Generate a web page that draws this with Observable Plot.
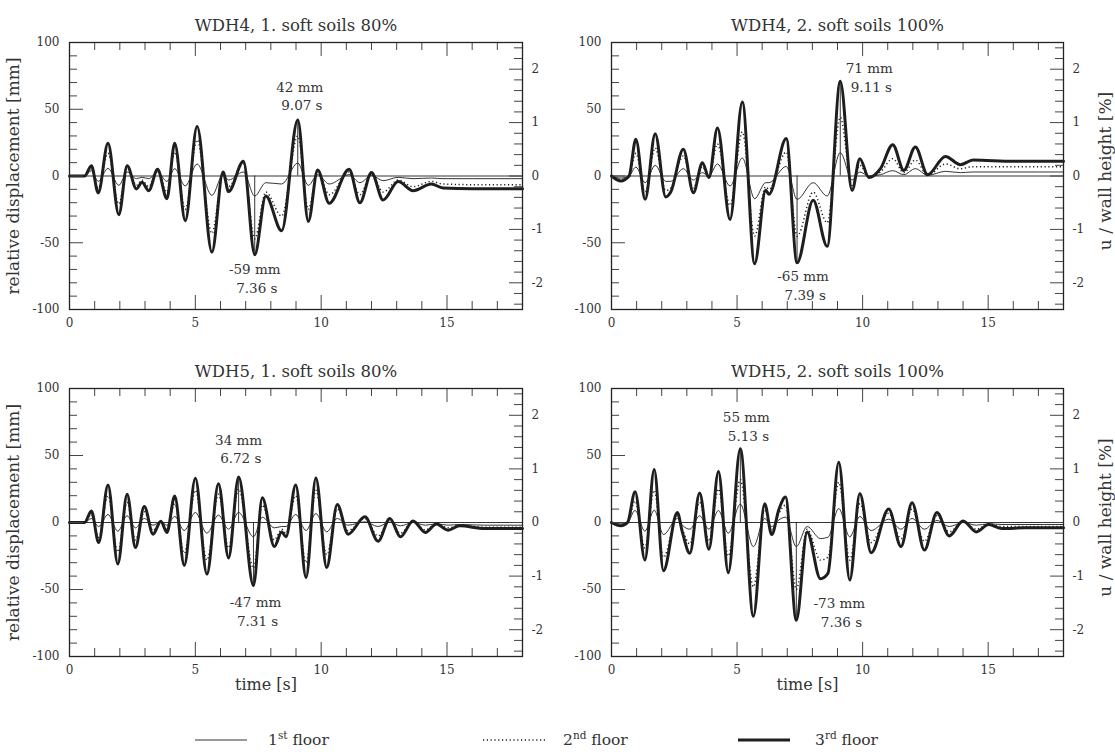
<!DOCTYPE html>
<html>
<head>
<meta charset="utf-8">
<script src="https://cdn.jsdelivr.net/npm/d3@7"></script>
<script src="https://cdn.jsdelivr.net/npm/@observablehq/plot@0.6"></script>
<style>
  body { margin: 0; background: #fff; }
  #wrap { position: relative; width: 1115px; height: 754px; font-family: "DejaVu Serif", serif; color: #333; overflow: hidden; }
  .panel { position: absolute; }
  .leg-line { position: absolute; }
  .leg-text { position: absolute; font-size: 15.5px; color: #333; white-space: nowrap; line-height: 1; }
  .leg-text sup { font-size: 0.68em; vertical-align: 0.55em; line-height: 0; }
</style>
</head>
<body>
<div id="wrap"></div>
<script>
// ---------------- DATA ----------------
// Panel titles
const panelTitles = ["WDH4, 1. soft soils 80%", "WDH4, 2. soft soils 100%", "WDH5, 1. soft soils 80%", "WDH5, 2. soft soils 100%"];

// Panel 1: WDH4, 1. soft soils 80%
const p1Time   = [0, 0.6, 0.87, 1.14, 1.53, 1.96, 2.29, 2.66, 2.88, 3.15, 3.5, 3.87, 4.18, 4.6, 5.07, 5.66, 6.1, 6.32, 6.91, 7.36, 7.8, 8.43, 9.07, 9.49, 9.86, 10.32, 11.11, 11.54, 12.0, 12.46, 13.06, 13.65, 14.38, 14.84, 16.0, 18.0];
const p1Floor1 = [0, 0, 4, -4, 5.7, -7, 3, -2, -1, -2, 3, -4, 5.5, -7.5, 9, -14.5, 1, -3, 3, -15, -5, -6, 9.7, -7, 1, -6, 1, -5, 0.5, -3.5, -1, -2, -1.5, -2, -2, -2];
const p1Floor2 = [0, 0, 6, -9, 17, -21, 6, -7, -3, -8, 4, -12, 18, -25, 27, -43, 2, -8, 9, -47, -12, -30, 30, -25, 3, -14, 3, -14, 1.5, -12, -3, -8, -4, -6, -6.5, -6.5];
const p1Floor3 = [0, 0, 7.7, -12.7, 24.5, -29, 7.7, -9.7, -4.7, -11, 5, -17, 24.5, -33.5, 37, -57, 3, -11.7, 11, -59, -15, -41, 42, -34, 4.5, -20.5, 5, -20, 2.7, -18, -4.2, -11, -6, -9, -9.5, -9.5];
const p1PeakTimes  = [9.07, 7.36];
const p1PeakValues = [42, -59];

// Panel 2: WDH4, 2. soft soils 100%
const p2Time   = [0, 0.37, 0.7, 0.97, 1.34, 1.74, 2.16, 2.36, 2.86, 3.26, 3.62, 3.88, 4.22, 4.72, 5.21, 5.7, 6.14, 6.27, 6.96, 7.39, 8.03, 8.59, 9.11, 9.58, 9.89, 10.25, 10.71, 11.2, 11.64, 12.1, 12.59, 13.3, 13.89, 14.4, 16.0, 18.0];
const p2Floor1 = [0, -1.5, 0, 6.7, -5, 8, -4, -4, 5.5, -3, 2.5, 0, 9, -7.5, 13.5, -17, -5, -5, 7.2, -17.5, -5, -15, 17.5, -3, 3, 0, 1, 4, 1, 5.5, 0.5, 3.5, 2.5, 3, 3, 3];
const p2Floor2 = [0, -2.5, 0, 17, -12, 21, -11, -9, 15, -9, 7, -1, 24, -22, 33, -45, -8, -10, 18, -45, -12, -35, 44, -7, 8, -1, 3, 13, 2.5, 12, 0.5, 9, 5.5, 7, 7, 7];
const p2Floor3 = [0, -3.7, 0, 27.5, -17.5, 31.7, -15.7, -12, 20, -12.5, 10, -1.2, 36, -32.5, 55.4, -65.7, -10.7, -13.7, 28, -65, -18.2, -52.7, 71, -10.7, 13, -1.2, 5.5, 23.5, 4.2, 21.7, 1, 14.7, 8.5, 12, 11, 11];
const p2PeakTimes  = [9.11, 7.39];
const p2PeakValues = [71, -65];

// Panel 3: WDH5, 1. soft soils 80%
const p3Time   = [0, 0.6, 0.87, 1.16, 1.53, 1.92, 2.29, 2.62, 2.97, 3.32, 3.63, 3.87, 4.18, 4.56, 5.0, 5.46, 5.92, 6.32, 6.72, 7.31, 7.66, 8.14, 8.43, 8.6, 8.99, 9.4, 9.79, 10.22, 10.64, 11.07, 11.74, 12.26, 12.73, 13.15, 13.65, 14.14, 14.58, 15.04, 15.5, 16.5, 18.0];
const p3Floor1 = [0, 0, 3, -3, 6, -6.5, 5, -4, 3, -2, 0.5, -2, 4.5, -6, 7.5, -8, 5.5, -5, 7.5, -10.7, 4, -4, -3, -3, 6, -6, 6.7, -7, 3, -2, 0.5, -3, 0.3, -2.5, 0, -2, -1, -2, -1.5, -2, -2];
const p3Floor2 = [0, 0, 6, -11, 20, -22, 15, -13, 8, -6, 0.5, -5, 14, -23, 24, -28, 21, -19, 25, -34, 13, -13, -5, -8, 20, -30, 24, -24, 10, -6, 3, -10, 2, -8, 1, -5.5, -1, -4, -2, -3.5, -3.5];
const p3Floor3 = [0, 0, 8.5, -15, 28, -31, 21, -18.7, 12, -8.7, 1, -7.5, 19.7, -32, 33, -38.5, 29, -26.4, 34, -47, 18.4, -18, -7, -10.7, 28, -41, 33.3, -33.6, 13.4, -8.7, 4.2, -14, 3, -10.7, 1.2, -7.5, -1.2, -5.7, -2.5, -4.5, -4.5];
const p3PeakTimes  = [6.72, 7.31];
const p3PeakValues = [34, -47];

// Panel 4: WDH5, 2. soft soils 100%
const p4Time   = [0, 0.37, 0.64, 0.94, 1.33, 1.7, 2.07, 2.62, 2.82, 3.12, 3.51, 3.88, 4.26, 4.65, 5.13, 5.65, 6.1, 6.38, 6.67, 6.93, 7.36, 7.79, 8.32, 8.62, 9.05, 9.49, 9.89, 10.34, 11.04, 11.53, 11.97, 12.46, 12.96, 13.45, 14.0, 14.53, 15.02, 15.55, 16.5, 18.0];
const p4Floor1 = [0, -1, 0, 9, -6.5, 9.2, -9, 3, -2, -5, 5, -5, 9, -8, 13.7, -18, 3, -3, 2, 4, -18, -3, -12, -11, 10.4, -10.7, 4.5, -6, 2.5, -5, 3, -5, 1.5, -3, 0, -2, -1, -1.5, -1.5, -1.5];
const p4Floor2 = [0, -2, 0, 16, -19, 24, -26, 5, -5, -16, 15, -14, 25, -25, 32, -48, 9, -6, 7, 13, -50, -5, -28, -26, 30, -28, 14, -15, 7, -12, 10, -14, 5, -7, 1, -5, -1, -3, -3, -3];
const p4Floor3 = [0, -2.5, 0, 23, -28, 39.5, -36, 7.5, -7, -23, 22, -20, 38, -37.5, 55, -70, 14, -9, 10, 19, -73, -7, -42, -38, 45, -43, 21.6, -22.6, 10, -18, 14.7, -20.6, 7.5, -10, 1.2, -7, -1.5, -4.5, -4, -4];
const p4PeakTimes  = [5.13, 7.36];
const p4PeakValues = [55, -73];

// Axes / ticks
const timeTicksMajor = [0, 5, 10, 15];
const timeTicksMinor = [1, 2, 3, 4, 6, 7, 8, 9, 11, 12, 13, 14, 16, 17];
const mmTicksMajor = [-100, -50, 0, 50, 100];
const mmTicksMinor = [-90, -80, -70, -60, -40, -30, -20, -10, 10, 20, 30, 40, 60, 70, 80, 90];
const pctTicksMajor = [-2, -1, 0, 1, 2];
const pctTicksMinor = [-2.4, -2.2, -1.8, -1.6, -1.4, -1.2, -0.8, -0.6, -0.4, -0.2, 0.2, 0.4, 0.6, 0.8, 1.2, 1.4, 1.6, 1.8, 2.2, 2.4];
const wallHeightMm = 4000;
const timeDomain = [0, 18];
const mmDomain = [-100, 100];

const axisLabelLeft = "relative displacement [mm]";
const axisLabelRight = "u / wall height [%]";
const axisLabelTime = "time [s]";

const floorNumbers = [1, 2, 3];
const floorSuffixes = ["st", "nd", "rd"];
const floorWord = "floor";

// ---------------- STYLES ----------------
const INK = "#1e1e1e";
const TXT = "#333";
const floorStyles = [
  { strokeWidth: 0.9, dash: null },
  { strokeWidth: 1.5, dash: "1.2 2.6" },
  { strokeWidth: 3, dash: null }
];
const FONT = "DejaVu Serif";

// ---------------- PANELS ----------------
const panels = [
  { time: p1Time, floors: [p1Floor1, p1Floor2, p1Floor3], peakT: p1PeakTimes, peakV: p1PeakValues,
    box: { left: 0, top: 0, width: 557, height: 340, mL: 69, mR: 35, mT: 42, mB: 31 },
    labelOffsets: [[2, -25], [0, 22.5]], leftLabel: true, rightLabel: false, timeLabel: false },
  { time: p2Time, floors: [p2Floor1, p2Floor2, p2Floor3], peakT: p2PeakTimes, peakV: p2PeakValues,
    box: { left: 557, top: 0, width: 558, height: 340, mL: 54, mR: 52, mT: 42, mB: 31 },
    labelOffsets: [[29, -4.5], [6, 22]], leftLabel: false, rightLabel: true, timeLabel: false },
  { time: p3Time, floors: [p3Floor1, p3Floor2, p3Floor3], peakT: p3PeakTimes, peakV: p3PeakValues,
    box: { left: 0, top: 340, width: 557, height: 360, mL: 69, mR: 35, mT: 48, mB: 44 },
    labelOffsets: [[0, -29], [2, 25]], leftLabel: true, rightLabel: false, timeLabel: true },
  { time: p4Time, floors: [p4Floor1, p4Floor2, p4Floor3], peakT: p4PeakTimes, peakV: p4PeakValues,
    box: { left: 557, top: 340, width: 558, height: 360, mL: 54, mR: 52, mT: 48, mB: 44 },
    labelOffsets: [[6, -23], [43, -9]], leftLabel: false, rightLabel: true, timeLabel: true }
];

const wrap = document.getElementById("wrap");

panels.forEach((p, pi) => {
  const b = p.box;
  const fw = b.width - b.mL - b.mR;
  const fh = b.height - b.mT - b.mB;
  const rows = p.time.map((t, i) => ({ t, f1: p.floors[0][i], f2: p.floors[1][i], f3: p.floors[2][i] }));
  const peaks = p.peakT.map((t, i) => ({ t, v: p.peakV[i] }));
  const pct = d => d * wallHeightMm / 100;

  const marks = [
    // zero line and peak markers
    Plot.ruleY([0], { stroke: INK, strokeWidth: 0.9 }),
    Plot.ruleX(peaks, { x: "t", y1: 0, y2: "v", stroke: INK, strokeWidth: 0.9 }),
    // series
    ...["f1", "f2", "f3"].map((k, i) => Plot.line(rows, {
      x: "t", y: k, curve: "monotone-x", stroke: INK,
      strokeWidth: floorStyles[i].strokeWidth,
      strokeDasharray: floorStyles[i].dash,
      strokeLinejoin: "round", strokeLinecap: i === 1 ? "butt" : "round"
    })),
    // inward ticks: left (mm)
    Plot.tickY(mmTicksMajor, { y: d => d, insetRight: fw - 14, stroke: "#444", strokeWidth: 1 }),
    Plot.tickY(mmTicksMinor, { y: d => d, insetRight: fw - 8, stroke: "#444", strokeWidth: 1 }),
    // right (% wall height)
    Plot.tickY(pctTicksMajor, { y: pct, insetLeft: fw - 13, stroke: "#444", strokeWidth: 1 }),
    Plot.tickY(pctTicksMinor, { y: pct, insetLeft: fw - 8, stroke: "#444", strokeWidth: 1 }),
    // top & bottom (time)
    Plot.tickX(timeTicksMajor, { x: d => d, insetBottom: fh - 14, stroke: "#444", strokeWidth: 1 }),
    Plot.tickX(timeTicksMinor, { x: d => d, insetBottom: fh - 8, stroke: "#444", strokeWidth: 1 }),
    Plot.tickX(timeTicksMajor, { x: d => d, insetTop: fh - 14, stroke: "#444", strokeWidth: 1 }),
    Plot.tickX(timeTicksMinor, { x: d => d, insetTop: fh - 8, stroke: "#444", strokeWidth: 1 }),
    Plot.frame({ stroke: "#222", strokeWidth: 1.3 }),
    // tick labels
    Plot.text(mmTicksMajor, { y: d => d, text: d => String(d), frameAnchor: "left", dx: -10, textAnchor: "end", fontSize: 12, fill: TXT }),
    Plot.text(pctTicksMajor, { y: pct, text: d => String(d), frameAnchor: "right", dx: 9, textAnchor: "start", fontSize: 12, fill: TXT }),
    Plot.text(timeTicksMajor, { x: d => d, text: d => String(d), frameAnchor: "bottom", dy: 17, fontSize: 12, fill: TXT }),
    // title
    Plot.text([panelTitles[pi]], { text: d => d, frameAnchor: "top", dy: -23, fontSize: 16.5, fill: TXT }),
  ];

  // peak annotations
  peaks.forEach((pk, i) => {
    const [dx, dy] = p.labelOffsets[i];
    marks.push(Plot.text([pk], {
      x: "t", y: "v", text: d => `${d.v} mm\n ${d.t.toFixed(2)} s`,
      dx, dy, fontSize: 13.5, lineHeight: 1.38, fill: TXT
    }));
  });

  if (p.leftLabel) marks.push(Plot.text([axisLabelLeft], { text: d => d, frameAnchor: "left", textAnchor: "middle", dx: -56, rotate: -90, fontSize: 17, fill: TXT }));
  if (p.rightLabel) marks.push(Plot.text([axisLabelRight], { text: d => d, frameAnchor: "right", textAnchor: "middle", dx: 42, dy: -5, rotate: -90, fontSize: 17, fill: TXT }));
  if (p.timeLabel) marks.push(Plot.text([axisLabelTime], { text: d => d, frameAnchor: "bottom", dx: -30, dy: 33, fontSize: 16, fill: TXT }));

  const svg = Plot.plot({
    width: b.width, height: b.height,
    marginLeft: b.mL, marginRight: b.mR, marginTop: b.mT, marginBottom: b.mB,
    x: { domain: timeDomain, axis: null },
    y: { domain: mmDomain, axis: null },
    style: { fontFamily: FONT, fontSize: "12px", background: "transparent", color: TXT, overflow: "visible" },
    marks
  });
  svg.classList.add("panel");
  svg.style.left = b.left + "px";
  svg.style.top = b.top + "px";
  wrap.appendChild(svg);
});

// ---------------- LEGEND ----------------
const legendLayout = [
  { lineX: 195, textX: 268 },
  { lineX: 483, textX: 563 },
  { lineX: 738, textX: 815 }
];
const legendY = 740;
floorNumbers.forEach((n, i) => {
  const L = legendLayout[i];
  const ns = "http://www.w3.org/2000/svg";
  const s = document.createElementNS(ns, "svg");
  s.setAttribute("width", 62); s.setAttribute("height", 10);
  s.setAttribute("class", "leg-line");
  s.style.left = L.lineX + "px"; s.style.top = (legendY - 5) + "px";
  const ln = document.createElementNS(ns, "line");
  ln.setAttribute("x1", 0); ln.setAttribute("x2", i === 1 ? 62 : 52);
  ln.setAttribute("y1", 5); ln.setAttribute("y2", 5);
  ln.setAttribute("stroke", INK);
  ln.setAttribute("stroke-width", floorStyles[i].strokeWidth);
  if (floorStyles[i].dash) ln.setAttribute("stroke-dasharray", floorStyles[i].dash);
  s.appendChild(ln);
  wrap.appendChild(s);
  const t = document.createElement("div");
  t.className = "leg-text";
  t.style.left = L.textX + "px"; t.style.top = (legendY - 7) + "px";
  t.append(String(n));
  const sup = document.createElement("sup"); sup.textContent = floorSuffixes[i];
  t.appendChild(sup);
  t.append(" " + floorWord);
  wrap.appendChild(t);
});
</script>
</body>
</html>
